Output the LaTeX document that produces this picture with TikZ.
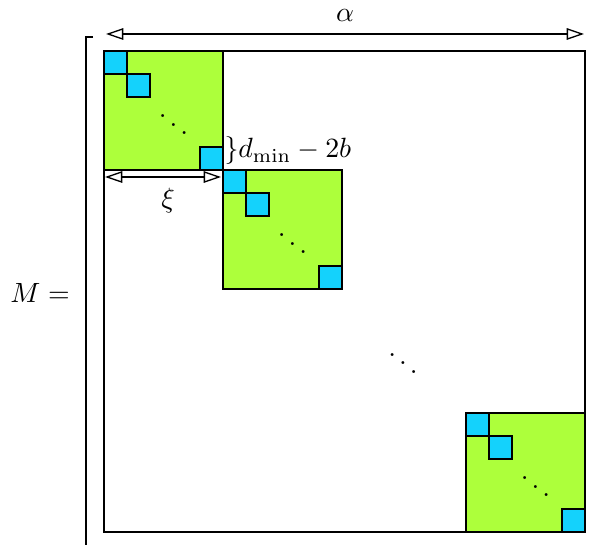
\documentclass[tikz,border=0pt]{standalone}
\usetikzlibrary{arrows.meta}
\definecolor{blockgreen}{RGB}{173,255,59}
\definecolor{diagblue}{RGB}{20,210,252}
\tikzset{
  frame/.style={draw=black, line width=0.6pt},
  block/.style={draw=black, fill=blockgreen, line width=0.6pt},
  subblock/.style={draw=black, fill=diagblue, line width=0.75pt},
  dimarrow/.style={line width=0.55pt,
    {Triangle[open,length=7.2pt,width=4.8pt]}-{Triangle[open,length=7.2pt,width=4.8pt]}},
  lbl/.style={inner sep=0pt, scale=1.16}
}
% one diagonal block: green square with blue sub-blocks and dots
\newcommand{\diagblock}[2]{%
  \draw[block] (#1,#2) rectangle ++(119,119);
  \draw[subblock] (#1,#2) rectangle ++(23,23);
  \draw[subblock] (#1+23,#2+23) rectangle ++(23,23);
  \draw[subblock] (#1+96,#2+96) rectangle ++(23,23);
  \node[lbl] at (#1+69.5,#2+65.5) {$\ddots$};
}
\begin{document}
\begin{tikzpicture}[x=0.41667pt,y=-0.41667pt]
  \useasboundingbox (0,0) rectangle (593,544);

  % matrix outline
  \draw[frame] (104,51) rectangle (585,532);

  % diagonal blocks
  \diagblock{104}{51}
  \diagblock{223}{170}
  \diagblock{466}{413}

  % dots between the blocks
  \node[lbl] (middots) at (403,355) {$\ddots$};

  % left bracket
  \draw[line width=0.8pt] (93,37) -- (86,37) -- (86,545);
  \node[lbl] (mlabel) at (40,293) {$M=$};

  % width of the whole matrix
  \coordinate (aleft) at (106,34);
  \coordinate (aright) at (584,34);
  \draw[dimarrow] (aleft) -- (aright);
  \node[lbl] (alpha) at (345,16) {$\alpha$};

  % width of one block
  \coordinate (xleft) at (105,177);
  \coordinate (xright) at (221,177);
  \draw[dimarrow] (xleft) -- (xright);
  \node[lbl] (xi) at (168,201) {$\xi$};

  % gap label
  \node[lbl, anchor=base west] (gap) at (224,158) {$\}d_{\min}-2b$};
\end{tikzpicture}
\end{document}
